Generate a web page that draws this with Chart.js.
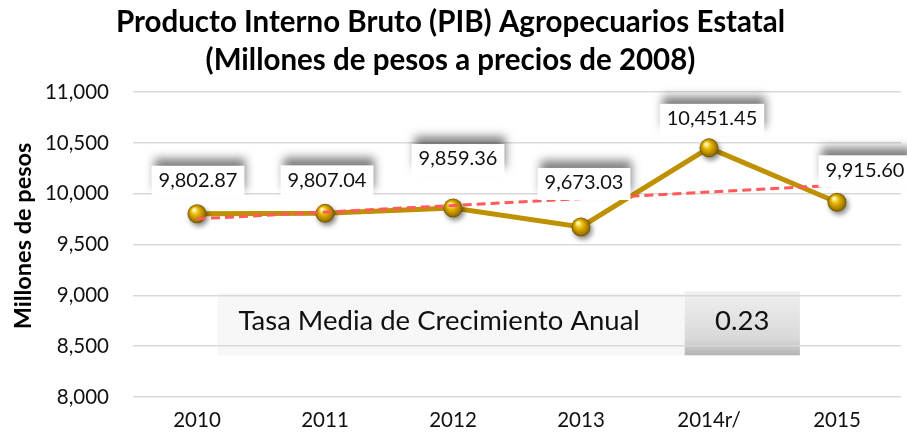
<!DOCTYPE html>
<html>
<head>
<meta charset="utf-8">
<script src="https://cdn.jsdelivr.net/npm/chart.js@4.4.1/dist/chart.umd.min.js"></script>
<style>
    body { margin: 0; background: #fff; }
    #grafica-pib { display: block; }
</style>
</head>
<body>
<canvas id="grafica-pib" width="907" height="437"></canvas>
<script>
var anios = ['2010', '2011', '2012', '2013', '2014r/', '2015'];
var pib = [9802.87, 9807.04, 9859.36, 9673.03, 10451.45, 9915.60];
// linea de tendencia (extremos)
var tendencia = [9753, null, null, null, null, 10083];
var tasaTexto = 'Tasa Media de Crecimiento Anual';
var tasaValor = '0.23';

// desplazamiento de cada etiqueta respecto a su punto (px)
var posEtiquetas = [[1, -33], [2, -33], [5, -49], [3, -44], [3, -29], [28, -32]];

var fuente = 'Lato, "Open Sans", sans-serif';

function formato(v) {
    return v.toLocaleString('en-US', {minimumFractionDigits: 2, maximumFractionDigits: 2});
}

// cuadro de la tasa media, debajo de la cuadricula
var cuadroTasa = {
    id: 'cuadroTasa',
    beforeDraw: function(chart) {
        var c = chart.ctx, x = chart.scales.x, y = chart.scales.y;
        var x0 = x.getPixelForValue(0.16), x1 = x.getPixelForValue(3.81), x2 = x.getPixelForValue(4.71);
        var yTop = y.getPixelForValue(9020), yTop2 = y.getPixelForValue(9040), yBot = y.getPixelForValue(8410);
        c.save();
        c.fillStyle = '#f7f7f7';
        c.fillRect(x0, yTop, x1 - x0, yBot - yTop);
        var g = c.createLinearGradient(0, yTop2, 0, yBot);
        g.addColorStop(0, '#f0f0f0');
        g.addColorStop(0.75, '#d8d8d8');
        g.addColorStop(1, '#b4b4b4');
        c.fillStyle = g;
        c.fillRect(x1, yTop2, x2 - x1, yBot - yTop2);
        c.fillStyle = '#111';
        c.textBaseline = 'middle';
        c.textAlign = 'left';
        c.font = '27.5px ' + fuente;
        var ym = (yTop + yBot) / 2 - 3;
        c.fillText(tasaTexto, x0 + 21, ym);
        c.textAlign = 'center';
        c.font = '27.5px ' + fuente;
        c.fillText(tasaValor, (x1 + x2) / 2, ym);
        c.restore();
    }
};

// esferas doradas y etiquetas con sombra
var esferas = {
    id: 'esferas',
    afterDatasetDraw: function(chart, args) {
        if (args.index !== 0) return;
        var c = chart.ctx;
        var puntos = chart.getDatasetMeta(0).data;
        puntos.forEach(function(p) {
            var r = 9.5;
            c.save();
            c.shadowColor = 'rgba(0,0,0,0.45)';
            c.shadowBlur = 5;
            c.shadowOffsetX = 2;
            c.shadowOffsetY = 3;
            var g = c.createRadialGradient(p.x - 3, p.y - 4, 1, p.x, p.y, r);
            g.addColorStop(0, '#fff6b0');
            g.addColorStop(0.35, '#e8b800');
            g.addColorStop(0.8, '#a67c00');
            g.addColorStop(1, '#6e5200');
            c.fillStyle = g;
            c.beginPath();
            c.arc(p.x, p.y, r, 0, Math.PI * 2);
            c.fill();
            c.restore();
        });
    },
    afterDraw: function(chart) {
        var c = chart.ctx;
        var puntos = chart.getDatasetMeta(0).data;
        c.save();
        c.font = '20px ' + fuente;
        c.textAlign = 'center';
        c.textBaseline = 'middle';
        puntos.forEach(function(p, i) {
            var txt = formato(pib[i]);
            var cx = p.x + posEtiquetas[i][0], cy = p.y + posEtiquetas[i][1];
            var w = c.measureText(txt).width + 14, h = 32;
            c.save();
            c.shadowColor = 'rgba(0,0,0,0.5)';
            c.shadowBlur = 9;
            c.shadowOffsetX = 2;
            c.shadowOffsetY = -8;
            c.fillStyle = '#fff';
            c.fillRect(cx - w / 2, cy - h / 2 + 1, w, h);
            c.restore();
            c.fillStyle = '#111';
            c.fillText(txt, cx, cy);
        });
        c.restore();
    }
};

new Chart(document.getElementById('grafica-pib').getContext('2d'), {
    type: 'line',
    data: {
        labels: anios,
        datasets: [
            {
                label: 'PIB',
                data: pib,
                borderColor: '#bf9000',
                borderWidth: 5,
                pointRadius: 0,
                tension: 0,
                order: 1
            },
            {
                label: 'Tendencia',
                data: tendencia,
                spanGaps: true,
                borderColor: '#ff5b5b',
                borderWidth: 3,
                borderDash: [9, 5],
                pointRadius: 0,
                order: 0
            }
        ]
    },
    options: {
        responsive: false,
        animation: false,
        devicePixelRatio: 1,
        layout: { padding: { left: 0, right: 6, top: 0, bottom: 0 } },
        plugins: {
            legend: { display: false },
            tooltip: { enabled: false },
            title: {
                display: true,
                text: ['Producto Interno Bruto (PIB) Agropecuarios Estatal', '(Millones de pesos a precios de 2008)'],
                color: '#000',
                font: { family: fuente, size: 29.5, weight: 'bold', lineHeight: 1.29 },
                padding: { top: 3, bottom: 13 }
            }
        },
        scales: {
            x: {
                offset: true,
                afterFit: function(s) { s.height = 40; },
                grid: { display: false, drawTicks: false },
                border: { display: false },
                ticks: { color: '#111', font: { family: fuente, size: 20.5 }, padding: 11 }
            },
            y: {
                min: 8000,
                max: 11000,
                afterFit: function(s) { s.width = 133; },
                grid: { color: '#d9d9d9', lineWidth: 1.5, drawTicks: false },
                border: { display: false },
                ticks: {
                    stepSize: 500,
                    color: '#111',
                    padding: 24,
                    font: { family: fuente, size: 20.5 },
                    callback: function(v) { return v.toLocaleString('en-US'); }
                },
                title: {
                    display: true,
                    text: '   Millones de pesos',
                    color: '#000',
                    font: { family: fuente, size: 23.5, weight: 'bold' },
                    padding: { top: 9, bottom: 0 }
                }
            }
        }
    },
    plugins: [cuadroTasa, esferas]
});
</script>
</body>
</html>
